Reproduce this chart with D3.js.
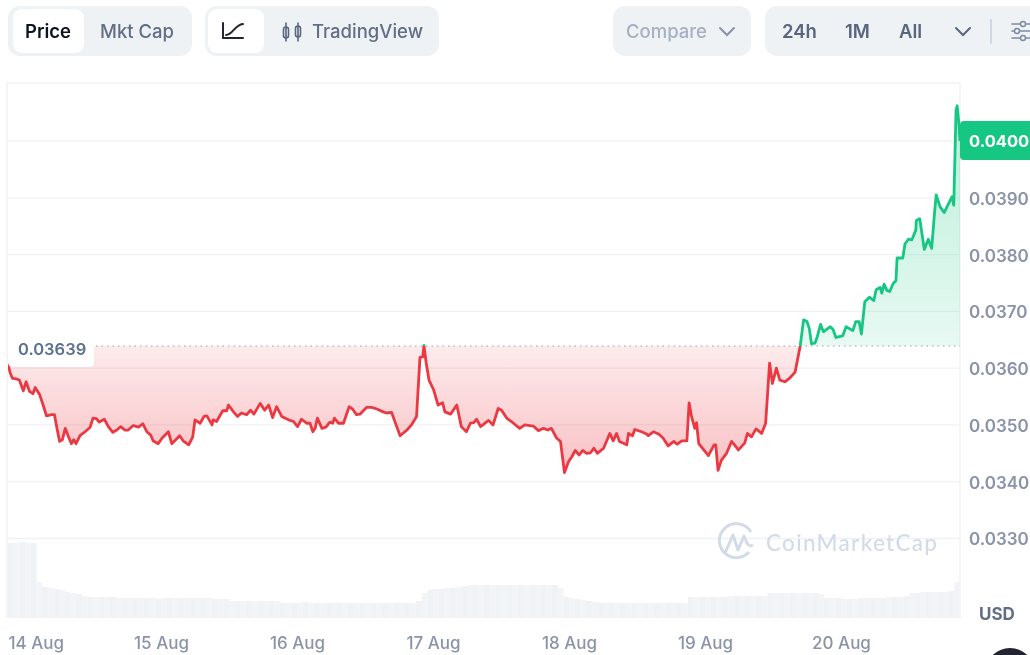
<!DOCTYPE html>
<html><head><meta charset="utf-8">
<script src="https://cdn.jsdelivr.net/npm/d3@7"></script>
<style>html,body{margin:0;padding:0;background:#fff;overflow:hidden}svg{display:block;font-family:Inter,"Noto Sans",sans-serif;filter:blur(.4px)}</style>
</head><body><svg id="c" width="1030" height="655"></svg>
<script>
// hours since 14 Aug 00:00
const priceHours = [
-3.0,-2.9,-2.6,-2.2,-1.5,-1.0,-0.3,0.2,0.8,1.4,
1.8,2.6,3.2,3.8,4.7,5.2,5.7,6.1,6.6,7.1,
7.6,8.2,8.6,9.0,9.7,10.6,11.5,12.0,12.6,13.1,
14.0,14.7,15.5,16.2,16.9,17.6,18.2,19.1,20.0,20.8,
21.5,22.2,22.6,23.5,24.2,25.3,25.9,27.3,27.9,28.9,
29.6,30.0,30.9,31.6,32.1,33.0,33.2,33.8,34.9,35.6,
35.9,36.8,37.5,38.2,39.1,39.8,40.4,41.5,42.3,43.0,
43.7,44.4,45.3,46.5,47.4,48.1,48.8,49.7,50.3,50.8,
51.2,51.6,52.4,53.1,53.8,54.3,54.6,55.3,56.2,57.2,
57.8,58.5,59.1,60.3,61.2,62.1,63.2,63.8,64.7,65.6,
66.2,67.4,68.2,69.1,69.7,70.2,70.4,70.8,71.3,72.1,
72.9,73.7,74.1,75.1,76.2,77.0,77.9,78.6,79.2,79.7,
80.4,81.8,82.6,83.5,84.1,85.0,86.2,87.3,88.2,89.7,
90.6,91.5,92.3,92.9,93.8,94.5,95.2,95.9,96.5,97.1,
97.8,98.4,99.1,99.8,100.4,101.0,102.1,103.2,103.8,104.4,
104.9,106.2,106.5,107.2,107.6,108.8,109.7,110.0,110.9,111.8,
112.6,113.5,114.5,115.1,115.9,116.8,117.2,117.6,118.2,118.5,
118.9,120.6,121.6,121.9,122.3,122.9,123.8,124.7,125.9,127.0,
127.5,128.2,129.0,130.0,130.7,131.4,131.9,132.6,133.2,134.1,
135.0,135.9,136.8,137.4,138.0,138.4,138.8,139.4,139.8,140.4,
140.9,142.1,142.6,143.1,144.3,144.9,146.1,146.6,147.2,147.6,
148.2,149.0,149.8,150.2,150.9,151.2,151.6,152.1,152.6,153.2,
153.7,153.9,154.9,155.3,155.9,156.5,157.2,157.3,157.9,158.7,
159.4,160.0,160.5,160.8,161.5,162.2,163.6,163.9,164.3,164.5,
164.8,165.0];
// price x 1000 (USD)
const priceValues = [
36.39,36.03,35.91,35.82,35.81,35.79,35.60,35.76,35.59,35.55,
35.66,35.53,35.35,35.16,35.18,35.18,34.91,34.71,34.74,34.94,
34.81,34.67,34.74,34.67,34.81,34.88,34.96,35.12,35.11,35.05,
35.10,34.97,34.87,34.91,34.97,34.91,34.91,34.99,34.96,35.02,
34.88,34.82,34.72,34.67,34.77,34.88,34.67,34.81,34.72,34.65,
34.79,35.09,35.03,35.15,35.16,35.00,35.09,35.06,35.25,35.25,
35.35,35.23,35.15,35.21,35.18,35.26,35.19,35.38,35.26,35.35,
35.13,35.32,35.15,35.09,35.06,34.97,35.10,35.03,35.03,34.88,
34.94,35.12,34.94,34.96,35.05,35.03,35.12,35.03,35.03,35.32,
35.28,35.18,35.19,35.31,35.31,35.28,35.23,35.21,35.22,34.97,
34.81,34.91,35.00,35.15,36.19,36.20,36.40,36.09,35.79,35.62,
35.35,35.39,35.23,35.19,35.35,34.97,34.88,35.03,35.04,35.10,
34.97,35.08,35.00,35.29,35.26,35.12,35.03,34.94,35.00,34.98,
34.90,34.94,34.91,34.94,34.77,34.71,34.16,34.35,34.44,34.55,
34.47,34.55,34.50,34.51,34.59,34.50,34.59,34.85,34.72,34.85,
34.71,34.65,34.85,34.81,34.92,34.88,34.84,34.81,34.88,34.84,
34.77,34.63,34.71,34.66,34.72,34.72,35.39,35.16,34.94,35.04,
34.67,34.46,34.65,34.65,34.20,34.38,34.50,34.71,34.56,34.68,
34.85,34.79,34.93,34.85,35.03,36.09,35.73,36.00,35.79,35.76,
35.83,35.93,36.39,36.85,36.82,36.70,36.43,36.44,36.55,36.77,
36.64,36.73,36.68,36.54,36.57,36.73,36.66,36.82,36.82,36.60,
37.17,37.25,37.19,37.38,37.42,37.32,37.48,37.37,37.35,37.49,
37.54,37.94,37.94,38.19,38.27,38.26,38.43,38.60,38.63,38.09,
38.27,38.11,38.73,39.05,38.84,38.74,39.02,38.87,40.55,40.62,
40.31,40.00];
const openPrice = 36.39;
const openLabel = "0.03639";
const lastPrice = 40.00;
const lastLabel = "0.0400";
// hourly volume, relative units
const volumeValues = [
75,75,76,75,75,36,31,30,29,28,26,25,24,
22,21,21,21,21,21,
20,20,20,20,20,20,20,19,20,20,20,20,20,20,20,20,20,19,19,19,
17,17,17,17,17,17,17,17,17,
15,15,15,15,16,15,15,15,15,15,15,15,15,15,15,15,15,15,15,15,15,15,15,15,
17,25,28,29,29,30,30,31,32,
33,33,33,33,33,33,33,33,33,33,33,33,33,33,33,33,
30,21,20,19,18,17,16,
15,15,15,15,15,15,15,15,15,15,15,15,15,15,15,15,
21,21,21,21,21,21,21,22,22,22,22,22,22,22,
25,25,25,25,25,25,25,25,25,24,
20,20,20,19,19,19,20,20,20,20,20,21,21,21,22,
25,25,26,26,26,26,26,27,36];
const priceTicks = [33,34,35,36,37,38,39,40];
const axisPriceTicks = [33,34,35,36,37,38,39];
const dayTicks = [0,24,48,72,96,120,144];
const dayLabels = ["14 Aug","15 Aug","16 Aug","17 Aug","18 Aug","19 Aug","20 Aug"];

const svg = d3.select("#c");
const L=8,R=960,T=83,B=618;
const x = d3.scaleLinear().domain([-3,165]).range([L,R]);
const y = d3.scaleLinear().domain([33,40]).range([538.5,141]);
const yVol = d3.scaleLinear().domain([0,75]).range([B,543]);
const pts = priceHours.map((h,i)=>[h,priceValues[i]]);
const grey="#8a93a8";

const defs = svg.append("defs");
const grad=(id,y1,y2,c,a1,a2)=>{const g=defs.append("linearGradient").attr("id",id).attr("gradientUnits","userSpaceOnUse").attr("x1",0).attr("x2",0).attr("y1",y1).attr("y2",y2);
 g.append("stop").attr("offset",0).attr("stop-color",c).attr("stop-opacity",a1);
 g.append("stop").attr("offset",1).attr("stop-color",c).attr("stop-opacity",a2);};
grad("gRed",y(openPrice),y(34.1),"#ea3943",.1,.32);
grad("gGreen",y(40.6),y(openPrice),"#16c784",.3,.1);
defs.append("clipPath").attr("id","above").append("rect").attr("x",L).attr("y",0).attr("width",R-L).attr("height",y(openPrice));
defs.append("clipPath").attr("id","below").append("rect").attr("x",L).attr("y",y(openPrice)).attr("width",R-L).attr("height",B-y(openPrice));

// toolbar
const pill=(a,b,t,h,f,r)=>svg.append("rect").attr("x",a).attr("y",t).attr("width",b-a).attr("height",h).attr("rx",r).attr("fill",f);
const label=(s,a,yy,c,w,fs)=>svg.append("text").text(s).attr("x",a).attr("y",yy).attr("fill",c).attr("font-weight",w).attr("font-size",fs||18.5);
pill(8,192,6,50,"#eff2f5",12); pill(13,84,9,44,"#fff",9);
pill(205,439,6,50,"#eff2f5",12); pill(208,264,9,44,"#fff",9);
pill(613,751,6,50,"#eff2f5",12); pill(765,1040,6,50,"#eff2f5",12);
label("Price",25,37.5,"#0d1421",600);
label("Mkt Cap",100,37.5,"#616e85",500);
label("TradingView",312,37.5,"#616e85",500);
label("Compare",626,37.5,"#a6b0c3",500);
label("24h",782,37.5,"#58667e",600);
label("1M",845,37.5,"#58667e",600);
label("All",899,37.5,"#58667e",600);
const ic=(d,c,w)=>svg.append("path").attr("d",d).attr("fill","none").attr("stroke",c).attr("stroke-width",w||2).attr("stroke-linecap","round");
ic("M223,23V38H243","#222531");ic("M226,35C233,35 234,25 243,24","#222531");
ic("M286,23V41M298,23V41","#58667e",1.6);
svg.append("rect").attr("x",283.5).attr("y",27).attr("width",5).attr("height",11).attr("rx",2.5).attr("fill","none").attr("stroke","#58667e").attr("stroke-width",1.6);
svg.append("rect").attr("x",295.5).attr("y",26).attr("width",5).attr("height",11).attr("rx",2.5).attr("fill","none").attr("stroke","#58667e").attr("stroke-width",1.6);
ic("M720,28L727,35L734,28","#8a93a8");
ic("M956,28L963,35L970,28","#58667e");
ic("M991,20V43","#cfd6e4",2);
ic("M1012,24H1030M1012,31H1030M1012,38H1030","#7d8aa0",1.6);
[[1023,24],[1017,31],[1023,38]].forEach(p=>svg.append("circle").attr("cx",p[0]).attr("cy",p[1]).attr("r",2.5).attr("fill","#eff2f5").attr("stroke","#7d8aa0").attr("stroke-width",1.4));

// frame + grid
const grid="#eff2f5";
svg.append("line").attr("x1",L-1).attr("x2",R).attr("y1",T).attr("y2",T).attr("stroke",grid).attr("stroke-width",1.5);
svg.append("line").attr("x1",L-1).attr("x2",L-1).attr("y1",T).attr("y2",B).attr("stroke",grid).attr("stroke-width",1.5);
svg.append("line").attr("x1",R).attr("x2",R).attr("y1",T).attr("y2",B).attr("stroke",grid).attr("stroke-width",1.5);
svg.append("g").selectAll("line").data(priceTicks).join("line")
 .attr("x1",L).attr("x2",R).attr("y1",d=>y(d)).attr("y2",d=>y(d)).attr("stroke",grid).attr("stroke-width",1.3);

// watermark
const wm=svg.append("g");
wm.append("path").attr("d","M749,552A17,17 0 1 1 751,532").attr("fill","none").attr("stroke","#d3dbe8").attr("stroke-width",3);
wm.append("path").attr("d","M725,553L733,535L738,550L744,536L747,543C749,547 751,546 753,545").attr("fill","none").attr("stroke","#d3dbe8").attr("stroke-width",3).attr("stroke-linejoin","round");
wm.append("text").text("CoinMarketCap").attr("x",766).attr("y",551).attr("fill","#d3dbe8").attr("font-size",22.5).attr("font-weight",500).attr("font-family","Lato,Inter,sans-serif").attr("letter-spacing",1.3);

// volume
const bw=(R-L)/volumeValues.length;
svg.append("g").selectAll("rect").data(volumeValues).join("rect")
 .attr("x",(d,i)=>x(-3+i)).attr("width",bw+.3)
 .attr("y",d=>yVol(d)).attr("height",d=>B-yVol(d))
 .attr("fill",(d,i)=>i%2?"#f2f4f7":"#f0f3f6");

// price
const area=d3.area().x(d=>x(d[0])).y0(y(openPrice)).y1(d=>y(d[1]));
const line=d3.line().x(d=>x(d[0])).y(d=>y(d[1])).curve(d3.curveLinear);
svg.append("path").datum(pts).attr("d",area).attr("fill","url(#gRed)").attr("clip-path","url(#below)");
svg.append("path").datum(pts).attr("d",area).attr("fill","url(#gGreen)").attr("clip-path","url(#above)");
svg.append("line").attr("x1",x(-3)).attr("x2",R).attr("y1",y(openPrice)).attr("y2",y(openPrice))
 .attr("stroke","#98a1b3").attr("stroke-width",1.2).attr("stroke-dasharray","1.5 4");
const st={fill:"none","stroke-width":2.8,"stroke-linejoin":"round"};
const drawLine=(c,clip)=>{const p=svg.append("path").datum(pts).attr("d",line).attr("stroke",c).attr("clip-path",clip);Object.entries(st).forEach(([k,v])=>p.attr(k,v));};
drawLine("#ea3943","url(#below)");
drawLine("#16c784","url(#above)");

// open label
const oy=y(openPrice);
svg.append("path").attr("d",`M8,${oy-2}H94V${oy+16}Q94,${oy+21} 89,${oy+21}H13Q8,${oy+21} 8,${oy+16}Z`).attr("fill","#fff");
svg.append("text").text(openLabel).attr("x",18).attr("y",oy+9).attr("fill","#5d7290").attr("font-size",16.5).attr("font-weight",600);

// axes
const ya=d3.axisRight(y).tickValues(axisPriceTicks).tickSize(0).tickPadding(9).tickFormat(d=>d3.format(".4f")(d/1000));
const yg=svg.append("g").attr("transform",`translate(${R},0)`).call(ya);
yg.select(".domain").remove();
yg.selectAll("text").attr("dy",".38em").attr("fill",grey).attr("font-size",17).attr("font-weight",600).attr("font-family","Inter,sans-serif");
const xa=d3.axisBottom(x).tickValues(dayTicks).tickSize(0).tickPadding(0).tickFormat((d,i)=>dayLabels[i]);
const xg=svg.append("g").attr("transform","translate(0,637)").call(xa);
xg.select(".domain").remove();
xg.selectAll("text").attr("fill",grey).attr("font-size",17).attr("font-weight",500).attr("font-family","Inter,sans-serif");
xg.selectAll("text").filter((d,i)=>i===0).attr("text-anchor","start").attr("x",L-x(0));

// last price tag
svg.append("path").attr("d","M964,121H1030V160H964Q960,160 960,156V125Q960,121 964,121Z").attr("fill","#16c784");
svg.append("text").text(lastLabel).attr("x",969).attr("y",y(lastPrice)+6).attr("fill","#fff").attr("font-size",16.5).attr("font-weight",700);
svg.append("text").text("USD").attr("x",979).attr("y",620).attr("fill","#616e85").attr("font-size",17).attr("font-weight",700);
svg.append("circle").attr("cx",1010).attr("cy",673).attr("r",25).attr("fill","#222531");
</script></body></html>
